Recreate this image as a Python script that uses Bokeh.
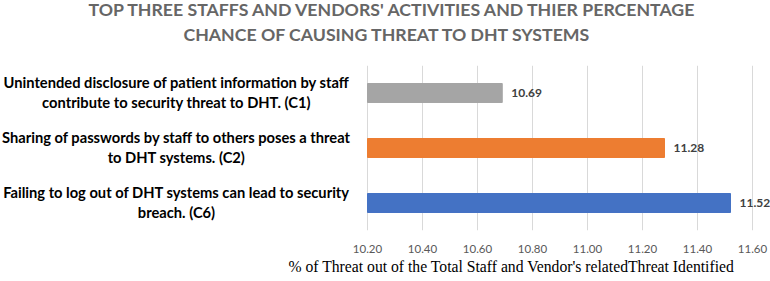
from bokeh.plotting import figure
from bokeh.models import (Range1d, FactorRange, FixedTicker, NumeralTickFormatter,
                          LabelSet, ColumnDataSource, Title)
from bokeh.core.properties import value
from bokeh.embed import file_html
from bokeh.resources import INLINE

# ---- data ----
codes = ["C1", "C2", "C6"]
statements = [
    "Unintended disclosure of patient information by staff\ncontribute to security threat to DHT. (C1)",
    "Sharing of passwords by staff to others poses a threat\nto DHT systems. (C2)",
    "Failing to log out of DHT systems can lead to security\nbreach. (C6)",
]
values = [10.69, 11.28, 11.52]
value_labels = ["10.69", "11.28", "11.52"]
colors = ["#A5A5A5", "#ED7D31", "#4472C4"]
x_ticks = [10.20, 10.40, 10.60, 10.80, 11.00, 11.20, 11.40, 11.60]
title_lines = [
    "TOP THREE STAFFS AND VENDORS' ACTIVITIES AND THIER PERCENTAGE",
    "CHANCE OF CAUSING THREAT TO DHT SYSTEMS",
]
x_label = "% of Threat out of the Total Staff and Vendor's relatedThreat  Identified"

src = ColumnDataSource(dict(
    code=codes, statement=statements,
    first=[s.split("\n")[0] for s in statements],
    second=[s.split("\n")[1] for s in statements],
    value=values, label=value_labels, color=colors))

# layout: the frame spans the full width; the value axis occupies px 367..752
W = 770
axis_left_px, px_per_step = 367, 55
tick_step = x_ticks[1] - x_ticks[0]
x_start = x_ticks[0] - tick_step * axis_left_px / px_per_step
x_end = x_start + tick_step * W / px_per_step

p = figure(width=W, height=281,
           y_range=FactorRange(factors=statements[::-1]),
           x_range=Range1d(x_start, x_end),
           output_backend="svg", toolbar_location=None,
           min_border_left=0, min_border_right=0,
           min_border_top=65, min_border_bottom=51)
p.outline_line_color = None
p.ygrid.grid_line_color = None
p.xgrid.grid_line_color = "#D9D9D9"
p.yaxis.visible = False

xa = p.xaxis[0]
xa.ticker = FixedTicker(ticks=x_ticks)
xa.formatter = NumeralTickFormatter(format="0.00")
xa.axis_line_color = None
xa.major_tick_line_color = None
xa.minor_tick_line_color = None
xa.major_label_text_font = "Lato"
xa.major_label_text_font_size = "11.5px"
xa.major_label_text_color = "#595959"
xa.major_label_standoff = 8

p.hbar(y="statement", right="value", left=x_ticks[0], height=0.345,
       fill_color="color", line_color="color", source=src)

p.add_layout(LabelSet(x="value", y="statement", text="label", source=src,
                      x_offset=9, text_baseline="middle", text_align="left",
                      text_font=value("Lato"), text_font_style="bold",
                      text_font_size="12px", text_color="#404040"))

cat_style = dict(x=176, x_units="screen", y="statement", source=src,
                 text_align="center", text_baseline="middle",
                 text_font=value("Lato"), text_font_style="bold",
                 text_font_size="14.7px", text_color="#000000")
p.add_layout(LabelSet(text="first", y_offset=11, **cat_style))
p.add_layout(LabelSet(text="second", y_offset=-9, **cat_style))

title_style = dict(align="left", text_font="Lato", text_font_style="bold",
                   text_font_size="17.7px", text_color="#666666")
# stacked from the frame outward: spacer, second line, first line
p.add_layout(Title(text=" ", align="center", standoff=6, text_font_size="5px"), "above")
p.add_layout(Title(text=title_lines[1], offset=183, standoff=13, **title_style), "above")
p.add_layout(Title(text=title_lines[0], offset=88, standoff=-8, **title_style), "above")

p.add_layout(Title(text=x_label, align="left", offset=288, standoff=1,
                   text_font="Liberation Serif", text_font_style="normal",
                   text_font_size="15.7px", text_color="#000000"), "below")

open("out.html", "w").write(file_html(p, INLINE))
